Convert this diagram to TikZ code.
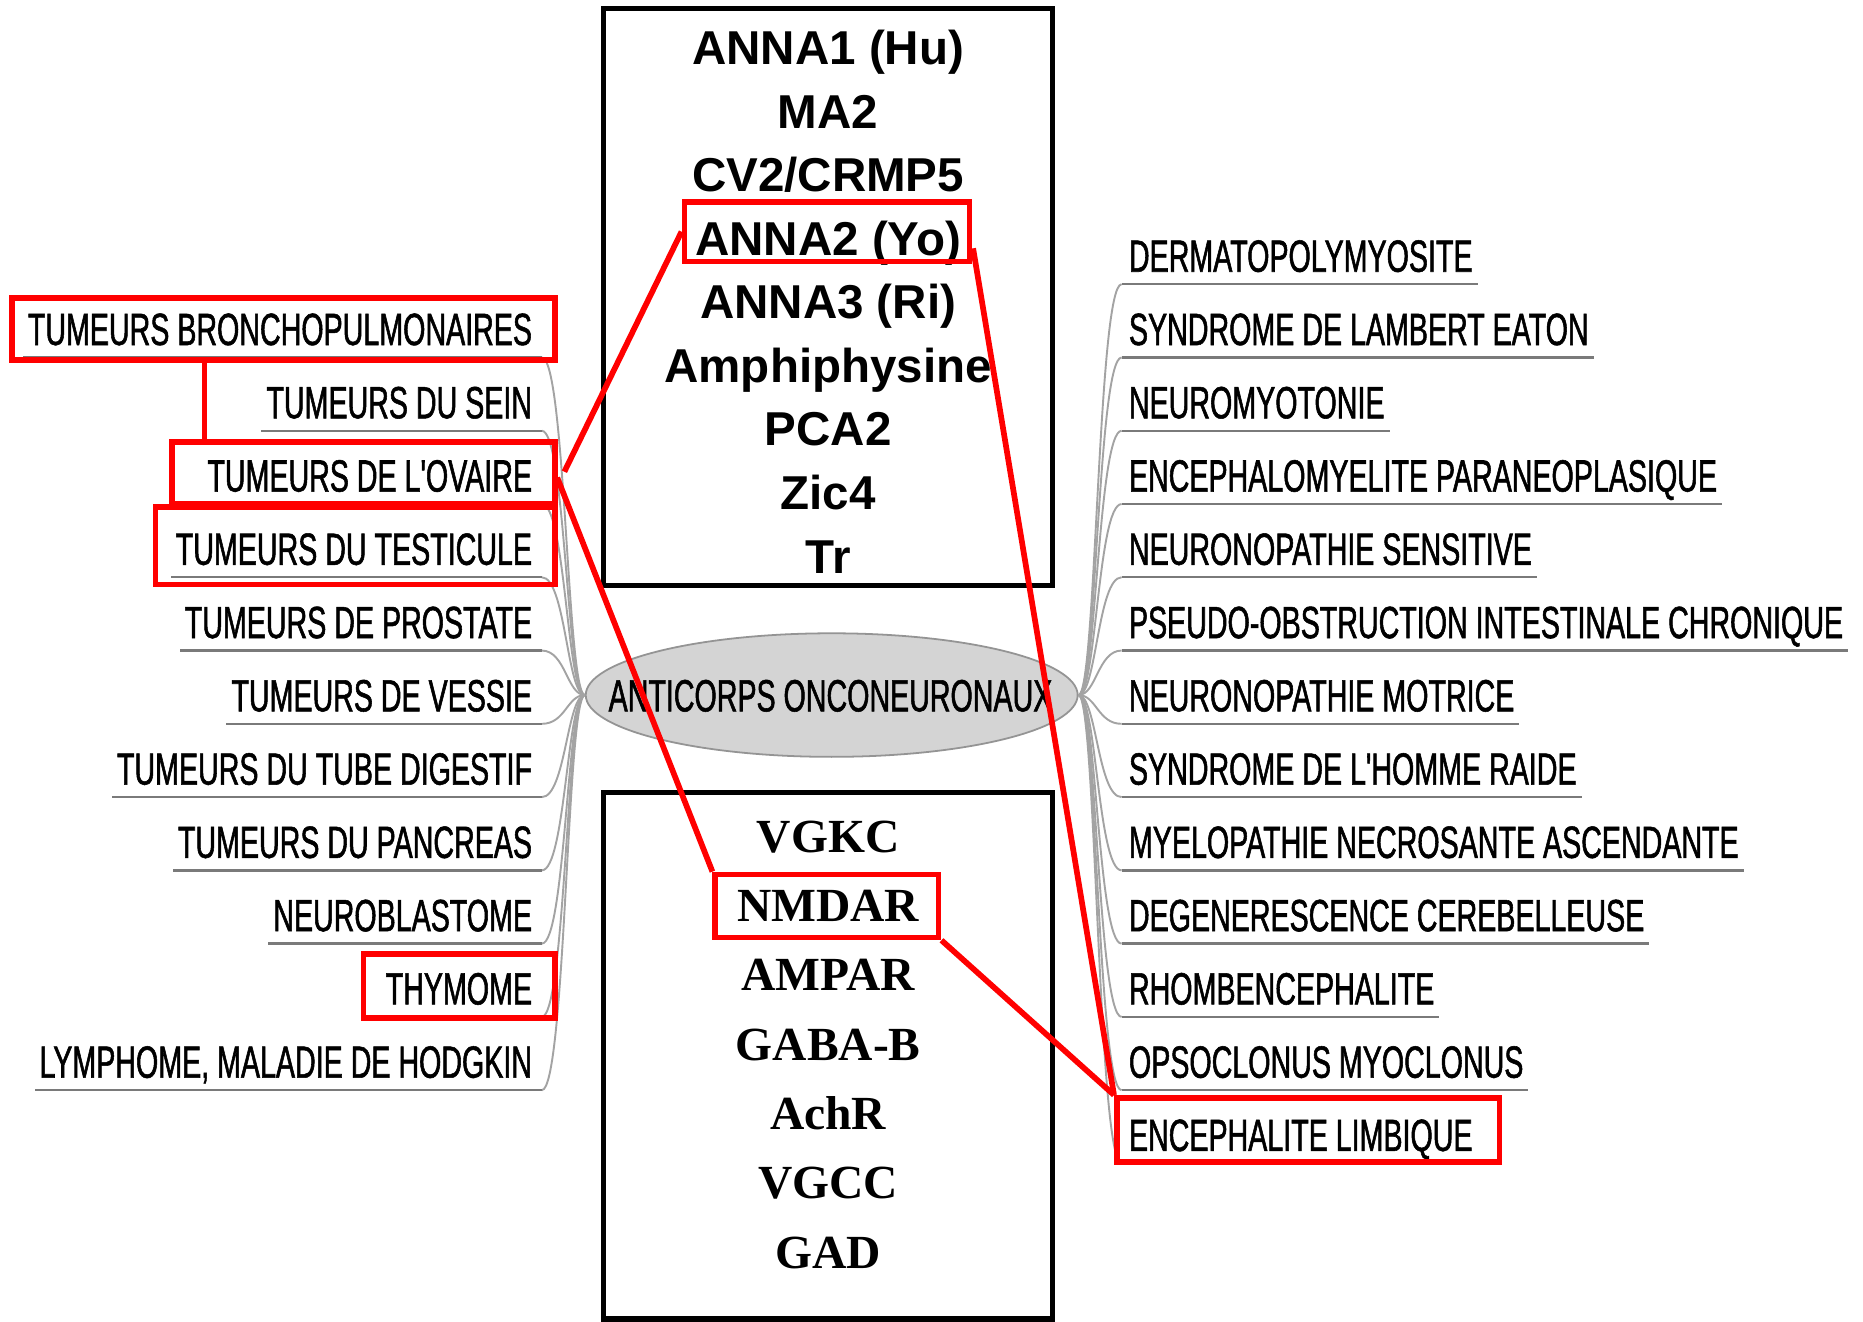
\documentclass[tikz,border=0pt]{standalone}
\usepackage{fontspec}
\setmainfont{Liberation Sans}
\newfontfamily\narrowfont{Liberation Sans}[FakeStretch=0.634,FakeBold=1.2,Ligatures=TeXOff]
\newfontfamily\headsans{Liberation Sans}
\newfontfamily\headserif{Liberation Serif}
\usetikzlibrary{shapes.geometric,calc}
\begin{document}
\begin{tikzpicture}[x=1pt,y=-1pt,
  side/.style={inner xsep=4pt, inner ysep=0pt, text height=27.4pt, text depth=10.3pt,
    font=\narrowfont\fontsize{38pt}{40pt}\selectfont},
  lside/.style={side, anchor=base east},
  rside/.style={side, anchor=base west},
  branch/.style={draw=black!36, line width=1.6pt},
  uline/.style={draw=black!52, line width=2pt},
  hl/.style={draw=red, line width=4.8pt, inner sep=0pt},
  redline/.style={draw=red, line width=4.8pt},
  frame/.style={draw=black, line width=4.6pt, inner sep=0pt},
  atext/.style={font=\headsans\bfseries\fontsize{40pt}{42pt}\selectfont, inner sep=0pt, anchor=base},
  rtext/.style={font=\headserif\bfseries\fontsize{40pt}{42pt}\selectfont, inner sep=0pt, anchor=base},
]
\useasboundingbox[fill=white] (0,0) rectangle (1568,1112);

% central node
\node[ellipse, fill=black!17, draw=black!42, line width=1.5pt, minimum width=414pt,
      minimum height=104pt, inner sep=0pt] (root) at (700,585) {};
\node[inner sep=0pt, text height=27.4pt, text depth=0pt,
      font=\narrowfont\fontsize{38pt}{40pt}\selectfont] (rootlabel) at (699,585) {ANTICORPS ONCONEURONAUX};

% left children
\foreach \t [count=\i] in {TUMEURS BRONCHOPULMONAIRES, TUMEURS DU SEIN, TUMEURS DE L'OVAIRE,
  TUMEURS DU TESTICULE, TUMEURS DE PROSTATE, TUMEURS DE VESSIE, TUMEURS DU TUBE DIGESTIF,
  TUMEURS DU PANCREAS, NEUROBLASTOME, THYMOME, {LYMPHOME, MALADIE DE HODGKIN}}
  {\node[lside] (L\i) at (452,{228.7+61.667*\i}) {\t};}
\foreach \i in {1,...,11}{
  \draw[branch] (root.west) .. controls +(-15,0) and +(20,0) .. ($(L\i.south east)+(4,0)$);
  \draw[uline] ($(L\i.south east)+(4,0)$) -- (L\i.south west);
}

% right children
\foreach \t [count=\i] in {DERMATOPOLYMYOSITE, SYNDROME DE LAMBERT EATON, NEUROMYOTONIE,
  ENCEPHALOMYELITE PARANEOPLASIQUE, NEURONOPATHIE SENSITIVE,
  PSEUDO-OBSTRUCTION INTESTINALE CHRONIQUE, NEURONOPATHIE MOTRICE,
  SYNDROME DE L'HOMME RAIDE, MYELOPATHIE NECROSANTE ASCENDANTE,
  DEGENERESCENCE CEREBELLEUSE, RHOMBENCEPHALITE, OPSOCLONUS MYOCLONUS, ENCEPHALITE LIMBIQUE}
  {\node[rside] (R\i) at (946,{167.033+61.667*\i}) {\t};}
\foreach \i in {1,...,13}{
  \draw[branch] (root.east) .. controls +(15,0) and +(-20,0) .. ($(R\i.south west)+(-2,0)$);
  \draw[uline] ($(R\i.south west)+(-2,0)$) -- (R\i.south east);
}

% top box
\node[frame, minimum width=378pt, minimum height=486pt] (topbox) at (697,250) {};
\foreach \t [count=\i] in {ANNA1 (Hu), MA2, CV2/CRMP5, ANNA2 (Yo), ANNA3 (Ri), Amphiphysine, PCA2, Zic4, Tr}
  {\node[atext] (T\i) at (697,{0.8+53.5*\i}) {\t};}

% bottom box
\node[frame, minimum width=378pt, minimum height=443pt] (botbox) at (697,888.5) {};
\foreach \t [count=\i] in {VGKC, NMDAR, AMPAR, GABA-B, AchR, VGCC, GAD}
  {\node[rtext] (B\i) at (697,{658.9+58.33*\i}) {\t};}

% red highlights
\node[hl, minimum width=457pt, minimum height=52pt] (hB) at (238.5,277) {};
\node[hl, minimum width=322pt, minimum height=52pt] (hO) at (306,398) {};
\node[hl, minimum width=336pt, minimum height=65pt] (hT) at (299,459.5) {};
\node[hl, minimum width=161pt, minimum height=54pt] (hY) at (386.5,830) {};
\node[hl, minimum width=240pt, minimum height=50pt] (hA) at (696,195) {};
\node[hl, minimum width=188pt, minimum height=53pt] (hN) at (696,762.5) {};
\node[hl, minimum width=322pt, minimum height=54pt] (hE) at (1101,951) {};

\coordinate (bx) at (172,0);
\coordinate (oUp) at (475,397);
\coordinate (oDn) at (469,402);
\coordinate (aOut) at (819,209);
\draw[redline] (hB.south -| bx) -- (hO.north -| bx);
\draw[redline] (oUp) -- (hA.west);
\draw[redline] (oDn) -- (hN.north west);
\draw[redline] (aOut) -- (hE.north west);
\draw[redline] (hN.south east) -- (hE.north west);
\end{tikzpicture}
\end{document}
